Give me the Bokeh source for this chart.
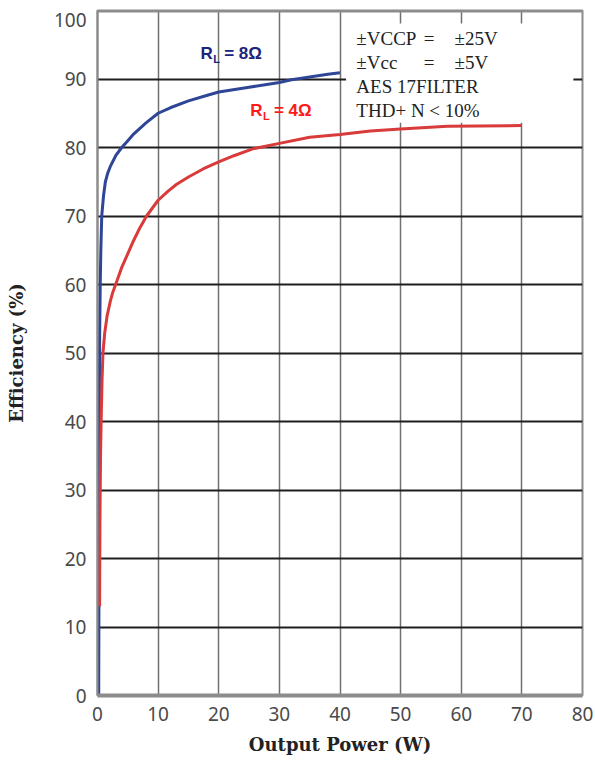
from bokeh.plotting import figure
from bokeh.models import Range1d, Label, BoxAnnotation, Span, FixedTicker, Title
from bokeh.embed import file_html
from bokeh.resources import INLINE

# ---- data ----
x_ticks = [0, 10, 20, 30, 40, 50, 60, 70, 80]
y_ticks = [0, 10, 20, 30, 40, 50, 60, 70, 80, 90, 100]

# R_L = 8 ohm
p8_w = [0.2, 0.25, 0.3, 0.35, 0.45, 0.55, 0.7, 1.0, 1.3, 1.7, 2.1, 3.0, 4.0, 5.0, 6.0, 7.0,
        8.0, 10, 12, 15, 18, 20, 25, 30, 32, 35, 38, 40]
p8_eff = [0, 20, 40, 52, 60, 65, 70, 73, 75, 76.3, 77.2, 78.8, 80, 81, 82, 82.8,
          83.6, 85, 85.8, 86.8, 87.6, 88.1, 88.8, 89.5, 89.9, 90.3, 90.7, 90.9]

# R_L = 4 ohm
p4_w = [0.35, 0.4, 0.5, 0.6, 0.75, 0.9, 1.2, 1.6, 2.1, 2.5, 3.2, 4.0, 5.0, 6.0, 7.0, 8.1,
        10, 11.6, 13, 15, 17.5, 20, 22.5, 25.6, 30, 35, 40, 45, 50, 57.7, 70]
p4_eff = [13, 25, 35, 40, 46, 50, 53, 55.5, 57.5, 58.8, 60.5, 62.5, 64.5, 66.5, 68.3, 70,
          72.3, 73.6, 74.6, 75.7, 76.9, 77.9, 78.8, 79.8, 80.6, 81.5, 81.9, 82.4, 82.7, 83.1, 83.2]

conditions_left = ["±VCCP", "±Vcc", "AES 17FILTER", "THD+ N < 10%"]
conditions_eq = ["=", "=", "", ""]
conditions_right = ["±25V", "±5V", "", ""]

BLUE = "#2f4596"
RED = "#d93a3a"
BORDER = "#8c8c8c"
TICK_COLOR = "#4a4a4a"

p = figure(width=595, height=761, x_range=Range1d(0, 80), y_range=Range1d(0, 100),
           output_backend="svg", toolbar_location=None,
           min_border_left=97, min_border_right=13, min_border_top=10, min_border_bottom=66,
           background_fill_color="white", border_fill_color="white")

p.xaxis.ticker = FixedTicker(ticks=x_ticks)
p.yaxis.ticker = FixedTicker(ticks=y_ticks)

p.xgrid.grid_line_color = "#707070"
p.xgrid.grid_line_width = 1.5
p.ygrid.grid_line_color = "#1e1e1e"
p.ygrid.grid_line_width = 2

for ax in (p.xaxis[0], p.yaxis[0]):
    ax.major_tick_line_color = None
    ax.minor_tick_line_color = None
    ax.major_tick_out = 0
    ax.major_tick_in = 0
    ax.minor_tick_out = 0
    ax.minor_tick_in = 0
    ax.axis_line_color = BORDER
    ax.major_label_text_font = "Noto Sans"
    ax.major_label_text_font_size = "19px"
    ax.major_label_text_color = TICK_COLOR
    ax.axis_label_text_font = "DejaVu Serif"
    ax.axis_label_text_font_style = "bold"
    ax.axis_label_text_font_size = "18px"
    ax.axis_label_text_color = "#222222"

p.xaxis.axis_line_width = 4
p.yaxis.axis_line_width = 2
p.xaxis.major_label_standoff = 11
p.yaxis.major_label_standoff = 11
p.xaxis.axis_label = "Output Power (W)"
p.xaxis.axis_label_standoff = 10

# top tick label "100" sits just below the top edge in the reference
p.yaxis.major_label_overrides = {100: ""}
p.add_layout(Label(x=0, y=y_ticks[-1], text=str(y_ticks[-1]), x_offset=-11, y_offset=-9,
                   text_align="right", text_baseline="middle", text_font="Noto Sans",
                   text_font_size="19px", text_color=TICK_COLOR), "left")

# y-axis title as a side title (rotated)
p.add_layout(Title(text="Efficiency (%)", align="center", offset=-9, standoff=3,
                   text_font="DejaVu Serif", text_font_style="bold",
                   text_font_size="18px", text_color="#222222"), "left")

p.outline_line_color = BORDER
p.outline_line_width = 2
p.add_layout(Span(location=100, dimension="width", line_color=BORDER, line_width=4))

# white box behind the test conditions
p.add_layout(BoxAnnotation(left=41, right=78.5, bottom=83.6, top=98.1, fill_color="white",
                           fill_alpha=1.0, line_color=None, level="underlay"))

p.line(p8_w, p8_eff, line_color=BLUE, line_width=3)
p.line(p4_w, p4_eff, line_color=RED, line_width=3)

# test conditions text
ys = [95.9, 92.4, 88.9, 85.4]
for t, e, r, yy in zip(conditions_left, conditions_eq, conditions_right, ys):
    for txt, xx in ((t, 42.7), (e, 53.8), (r, 58.9)):
        if txt:
            p.add_layout(Label(x=xx, y=yy, text=txt, text_font="Liberation Serif",
                               text_font_size="19px", text_color="#222222",
                               text_baseline="middle", text_align="left"))

def rl_label(x, y, rest, color):
    p.add_layout(Label(x=x, y=y, text="R", text_font="Liberation Sans", text_font_style="bold",
                       text_font_size="17px", text_color=color, text_baseline="middle"))
    p.add_layout(Label(x=x + 2.1, y=y - 0.75, text="L", text_font="Liberation Sans",
                       text_font_style="bold", text_font_size="11px", text_color=color,
                       text_baseline="middle"))
    p.add_layout(Label(x=x + 3.9, y=y, text=rest, text_font="Liberation Sans",
                       text_font_style="bold", text_font_size="17px", text_color=color,
                       text_baseline="middle"))

rl_label(17.0, 93.7, "= 8Ω", "#1b237c")
rl_label(25.2, 85.4, "= 4Ω", "#ff1a1a")

open("out.html", "w").write(file_html(p, INLINE))
